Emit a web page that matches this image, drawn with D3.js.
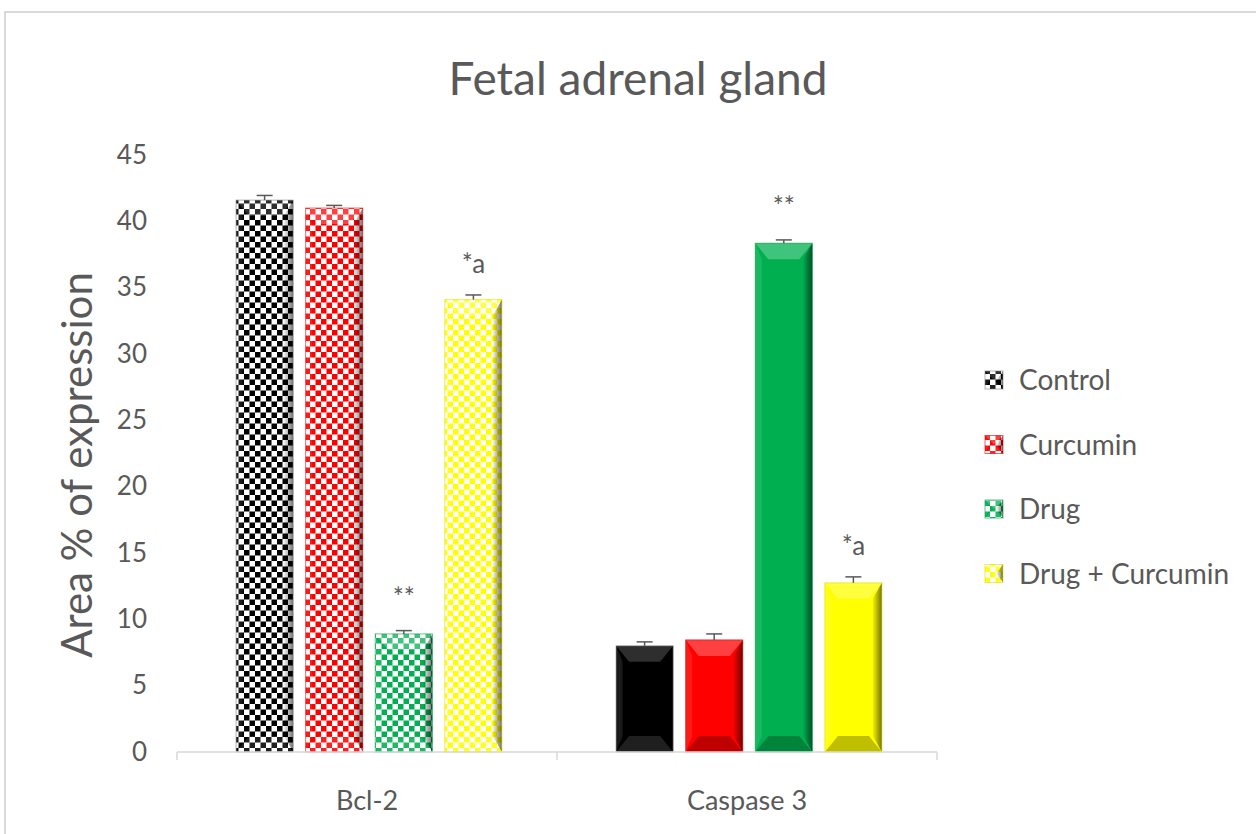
<!DOCTYPE html>
<html><head><meta charset="utf-8">
<script src="https://cdn.jsdelivr.net/npm/d3@7"></script>
<style>html,body{margin:0;padding:0;background:#fff;} svg{display:block;}</style>
</head><body>
<svg id="chart" width="1256" height="834"></svg>
<script>
const categories = ["Bcl-2", "Caspase 3"];
const seriesNames = ["Control", "Curcumin", "Drug", "Drug + Curcumin"];
const seriesColors = ["#000000", "#ff0000", "#00b050", "#ffff00"];
const bcl2Values = [41.6, 41.0, 8.9, 34.1];
const bcl2Errors = [0.35, 0.2, 0.25, 0.35];
const caspaseValues = [8.0, 8.45, 38.35, 12.75];
const caspaseErrors = [0.3, 0.45, 0.25, 0.45];
const bcl2Labels = ["", "", "**", "*a"];
const caspaseLabels = ["", "", "**", "*a"];
const yTicks = [0, 5, 10, 15, 20, 25, 30, 35, 40, 45];

const font = "Lato, 'Open Sans', sans-serif";
const textColor = "#595959";
const svg = d3.select("#chart");
const defs = svg.append("defs");

// chart border
svg.append("rect").attr("x", 5).attr("y", 12).attr("width", 1400).attr("height", 1000)
  .attr("fill", "none").attr("stroke", "#d9d9d9").attr("stroke-width", 2);

const plotLeft = 177, plotRight = 937, plotTop = 155, plotBottom = 752;
const y = d3.scaleLinear().domain([0, 45]).range([plotBottom, plotTop]);
const x0 = d3.scaleBand().domain(categories).range([plotLeft, plotRight]).padding(0);
const x1 = d3.scaleBand().domain(seriesNames).range([0, x0.bandwidth()]).paddingInner(0.18).paddingOuter(0.82);

// checker patterns
seriesColors.forEach((c, i) => {
  const p = defs.append("pattern").attr("id", "chk" + i).attr("patternUnits", "userSpaceOnUse")
    .attr("width", 11).attr("height", 11);
  p.append("rect").attr("width", 11).attr("height", 11).attr("fill", "#fff");
  p.append("rect").attr("width", 5.5).attr("height", 5.5).attr("fill", c);
  p.append("rect").attr("x", 5.5).attr("y", 5.5).attr("width", 5.5).attr("height", 5.5).attr("fill", c);
});
// side gradient
const g1 = defs.append("linearGradient").attr("id", "sideR").attr("x1", 0).attr("x2", 1).attr("y1", 0).attr("y2", 0);
g1.append("stop").attr("offset", 0).attr("stop-color", "#000").attr("stop-opacity", 0.05);
g1.append("stop").attr("offset", 1).attr("stop-color", "#000").attr("stop-opacity", 0.55);

const data = [];
categories.forEach((cat, ci) => {
  const vals = ci === 0 ? bcl2Values : caspaseValues;
  const errs = ci === 0 ? bcl2Errors : caspaseErrors;
  const labs = ci === 0 ? bcl2Labels : caspaseLabels;
  seriesNames.forEach((s, si) => data.push({cat, ci, s, si, v: vals[si], e: errs[si], lab: labs[si]}));
});

function drawBevelBar(g, bx, by, bw, bh, fill, color, si, patterned) {
  g.append("rect").attr("x", bx).attr("y", by).attr("width", bw).attr("height", bh).attr("fill", fill);
  const b = Math.min(13, bh / 2, bw / 2);
  const tb = Math.min(16, bh / 2);
  // top face lighter
  g.append("polygon").attr("points", [[bx, by], [bx + bw, by], [bx + bw - b, by + tb], [bx + b, by + tb]].join(" "))
    .attr("fill", "#fff").attr("opacity", si === 0 ? 0.18 : 0.25);
  // bottom face darker
  g.append("polygon").attr("points", [[bx, by + bh], [bx + bw, by + bh], [bx + bw - b, by + bh - tb], [bx + b, by + bh - tb]].join(" "))
    .attr("fill", (si === 0 || patterned) ? "#fff" : "#000").attr("opacity", (si === 0 || patterned) ? 0.12 : 0.25);
  // right face
  g.append("polygon").attr("points", [[bx + bw, by], [bx + bw, by + bh], [bx + bw - b * 0.7, by + bh - tb], [bx + bw - b * 0.7, by + tb]].join(" "))
    .attr("fill", "url(#sideR)");
  // left face
  g.append("polygon").attr("points", [[bx, by], [bx, by + bh], [bx + b * 0.5, by + bh - tb], [bx + b * 0.5, by + tb]].join(" "))
    .attr("fill", "#fff").attr("opacity", 0.1);
  g.append("rect").attr("x", bx).attr("y", by).attr("width", bw).attr("height", bh)
    .attr("fill", "none").attr("stroke", si === 0 ? "#7f7f7f" : d3.color(color).darker(0.4)).attr("stroke-width", 1).attr("opacity", 0.6);
}

const barsG = svg.append("g").attr("transform", "translate(2,0)");
data.forEach(d => {
  const bx = x0(d.cat) + x1(d.s), bw = x1.bandwidth();
  const by = y(d.v), bh = y(0) - y(d.v);
  const fill = d.ci === 0 ? `url(#chk${d.si})` : seriesColors[d.si];
  drawBevelBar(barsG.append("g"), bx, by, bw, bh, fill, seriesColors[d.si], d.si, d.ci === 0);
  // error bar
  const cx = bx + bw / 2;
  barsG.append("line").attr("x1", cx).attr("x2", cx).attr("y1", y(d.v)).attr("y2", y(d.v + d.e))
    .attr("stroke", textColor).attr("stroke-width", 1.5);
  barsG.append("line").attr("x1", cx - 8).attr("x2", cx + 8).attr("y1", y(d.v + d.e)).attr("y2", y(d.v + d.e))
    .attr("stroke", textColor).attr("stroke-width", 1.5);
  if (d.lab) {
    const off = d.lab === "**" ? 24 : 22;
    barsG.append("text").attr("x", cx).attr("y", y(d.v + d.e) - off).attr("text-anchor", "middle")
      .attr("font-family", font).attr("font-size", 26).attr("fill", textColor).text(d.lab);
  }
});

// x axis
const xAxisG = svg.append("g");
xAxisG.append("line").attr("x1", plotLeft).attr("x2", plotRight).attr("y1", plotBottom).attr("y2", plotBottom)
  .attr("stroke", "#d9d9d9").attr("stroke-width", 1.5);
[plotLeft, x0(categories[1]), plotRight].forEach(tx => {
  xAxisG.append("line").attr("x1", tx).attr("x2", tx).attr("y1", plotBottom).attr("y2", plotBottom + 8)
    .attr("stroke", "#d9d9d9").attr("stroke-width", 1.5);
});
categories.forEach(c => {
  xAxisG.append("text").attr("x", x0(c) + x0.bandwidth() / 2).attr("y", 810).attr("text-anchor", "middle")
    .attr("font-family", font).attr("font-size", 27).attr("fill", textColor).text(c);
});

// y axis labels
const yAxis = d3.axisLeft(y).tickValues(yTicks).tickSize(0).tickPadding(0);
const yg = svg.append("g").attr("transform", `translate(147,0)`).call(yAxis);
yg.select(".domain").remove();
yg.selectAll("text").attr("font-family", font).attr("font-size", 26).attr("fill", textColor);

// y title
svg.append("text").attr("transform", "translate(92,465) rotate(-90)").attr("text-anchor", "middle")
  .attr("font-family", font).attr("font-size", 42).attr("fill", textColor).text("Area % of expression");

// title
svg.append("text").attr("x", 638).attr("y", 95).attr("text-anchor", "middle")
  .attr("font-family", font).attr("font-size", 46).attr("fill", textColor).text("Fetal adrenal gland");

// legend
const legend = svg.append("g");
seriesNames.forEach((s, i) => {
  const ly = 380 + i * 64.5;
  const lg = legend.append("g");
  drawBevelBar(lg, 985, ly - 9, 18, 18, `url(#chk${i})`, seriesColors[i], i, true);
  legend.append("text").attr("x", 1019).attr("y", ly + 10).attr("font-family", font).attr("font-size", 28)
    .attr("fill", textColor).text(s);
});
</script>
</body></html>
